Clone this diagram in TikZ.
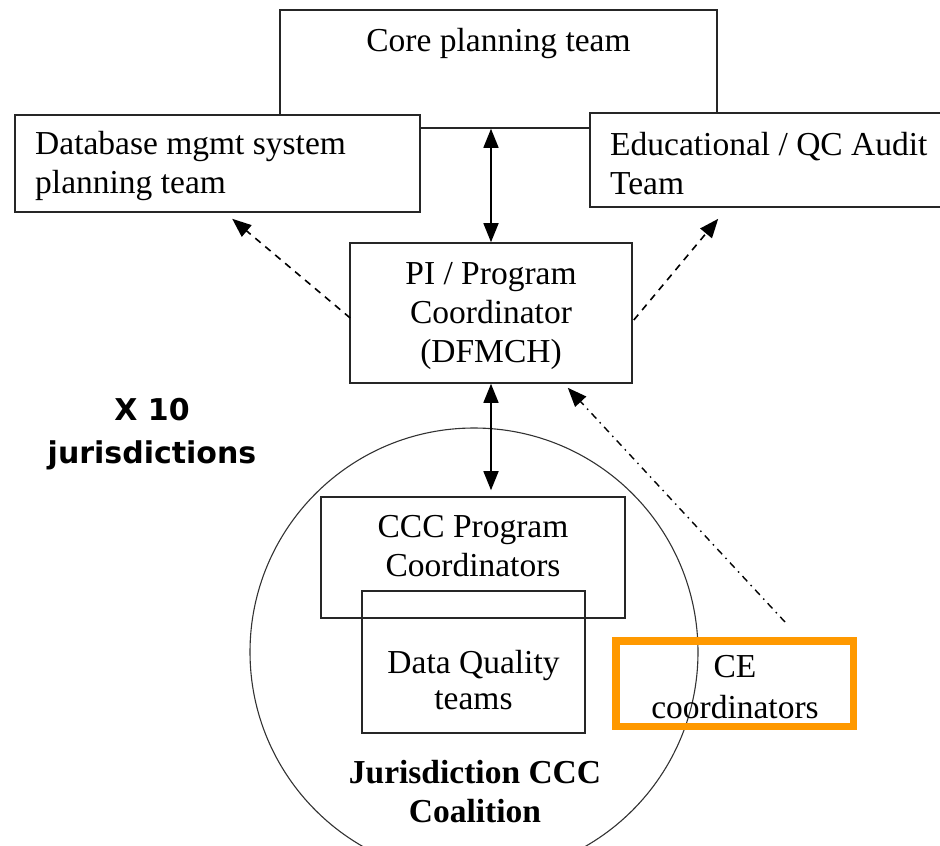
\documentclass[tikz,border=0pt]{standalone}
\usepackage{fontspec}
\setmainfont{Liberation Serif}
\newfontfamily\labelsans{DejaVu Sans}
\usetikzlibrary{arrows.meta,calc}
\definecolor{ceorange}{HTML}{FF9900}
\tikzset{
  box/.style={draw=black!85, line width=1.6pt, inner sep=0pt},
  txt/.style={font=\fontsize{33.5}{39}\selectfont, align=center, inner sep=0pt},
  ltxt/.style={txt, align=left, anchor=west},
  tip/.tip={Triangle[length=19pt,width=15pt]},
  link/.style={line width=1.6pt, -tip},
  both/.style={line width=1.6pt, tip-tip},
}
\begin{document}
\begin{tikzpicture}[x=1pt,y=-1pt]
\useasboundingbox (0,0) rectangle (940,846);
\begin{scope}
\clip (0,0) rectangle (940,846);

% coalition circle
\node[draw=black!80, line width=1.1pt, circle, minimum size=448pt, inner sep=0pt] (coal) at (474,652) {};

% top level boxes
\node[box, minimum width=437pt, minimum height=118pt] (core) at (498.5,69) {};
\node[txt, anchor=north] (coretxt) at (498.5,28) {Core planning team};

\node[box, fill=white, minimum width=405pt, minimum height=97pt] (db) at (217.5,163.5) {};
\node[ltxt] (dbtxt) at (35,166) {Database mgmt system\\planning team};

\node[box, fill=white, minimum width=352pt, minimum height=94pt] (edu) at (766,160) {};
\node[ltxt] (edutxt) at (610,164) {Educational / QC Audit\\Team};

\node[box, minimum width=282pt, minimum height=140pt] (pi) at (491,313) {};
\node[txt] (pitxt) at (491,316) {PI / Program\\Coordinator\\(DFMCH)};

% jurisdiction level boxes
\node[box, minimum width=304pt, minimum height=121pt] (ccc) at (473,557.5) {};
\node[txt, anchor=north] (ccctxt) at (473,515) {CCC Program\\Coordinators};

\node[box, minimum width=223pt, minimum height=142pt] (dq) at (473.5,662) {};
\node[txt, font=\fontsize{33.5}{36}\selectfont] (dqtxt) at (473.5,680) {Data Quality\\teams};

\node[draw=ceorange, line width=7.5pt, minimum width=237.5pt, minimum height=85.5pt,
      inner sep=0pt] (ce) at (734.5,683.5) {};
\node[txt, font=\fontsize{33.5}{41}\selectfont] (cetxt) at (735,687) {CE\\coordinators};

\node[txt, font=\fontsize{33.5}{39}\selectfont\bfseries] (coaltxt) at (475,792) {Jurisdiction CCC\\Coalition};

\node[font=\labelsans\bfseries\fontsize{30}{43}\selectfont, align=center, inner sep=0pt] (x10) at (152,434)
  {X 10\\jurisdictions};

% connectors
\draw[both] (pi.north) -- (pi.north |- core.south);
\draw[both] (pi.south) -- ($(pi.south |- ccc.north)+(0,-6)$);
\draw[link, dash pattern=on 7pt off 6pt] ($(pi.west)+(1,5)$) -- ($(db.south west)+(218,6)$);
\draw[link, dash pattern=on 7pt off 6pt] ($(pi.east)+(1,7)$) -- ($(edu.south west)+(129,11)$);
\draw[link, line width=1.4pt, dash pattern=on 7pt off 5pt on 1.5pt off 5pt] ($(ce.north east)+(-72,-15)$) -- ($(pi.south east)+(-65,4)$);
\end{scope}
\end{tikzpicture}
\end{document}
